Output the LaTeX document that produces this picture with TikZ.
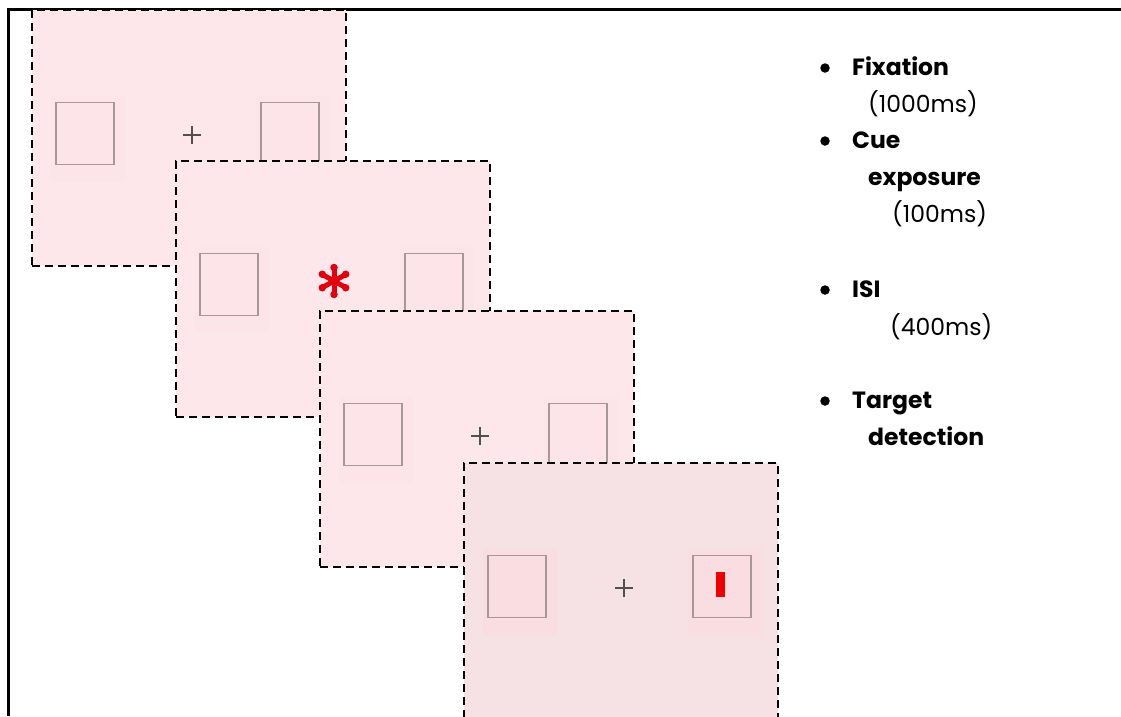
\documentclass[tikz,border=0pt]{standalone}
\usepackage{fontspec}
\setmainfont{Poppins}
\definecolor{panelpink}{HTML}{FDE7EA}
\definecolor{targetpink}{HTML}{F6E1E4}
\definecolor{glowpink}{HTML}{FCE4E8}
\definecolor{glowtarget}{HTML}{F9DDE1}
\definecolor{boxline}{HTML}{A8979A}
\definecolor{fixgray}{HTML}{505050}
\definecolor{cuered}{HTML}{E00010}
\definecolor{barred}{HTML}{F00000}
\tikzset{
  panel/.style={draw=black, line width=2.8pt, dash pattern=on 8pt off 5pt,
    fill=panelpink, minimum width=314pt, minimum height=256pt,
    anchor=north west, inner sep=0pt, outer sep=0pt},
  glow/.style={fill=glowpink, draw=none, minimum width=74pt, minimum height=86pt, inner sep=0pt},
  placebox/.style={draw=boxline, line width=1.2pt, minimum width=58pt, minimum height=62pt, inner sep=0pt},
  fixcross/.style={draw=fixgray, line width=1.9pt},
  cuestar/.style={draw=cuered, line width=5pt, line cap=round},
  blob/.style={circle, fill=cuered, minimum size=7.5pt, inner sep=0pt},
  label/.style={anchor=base west, inner sep=0pt, font=\fontsize{23.5}{28}\selectfont\bfseries},
  timing/.style={anchor=base west, inner sep=0pt, font=\fontsize{23.5}{28}\selectfont},
  dot/.style={circle, fill=black, minimum size=9.5pt, inner sep=0pt}
}
% one display: panel, two placeholder boxes and their soft halos
\newcommand\stimdisplay[1]{%
  \node[panel] (#1) at (0,0) {};
  \node[glow] (#1gl) at (56,129) {};
  \node[glow] (#1gr) at (261,129) {};
  \node[placebox] (#1l) at (53,123.5) {};
  \node[placebox] (#1r) at (258,123.5) {};
}
\newcommand\fixmark[1]{%
  \coordinate (#1c) at (160,125);
  \draw[fixcross] ([xshift=-9pt]#1c) -- ([xshift=9pt]#1c);
  \draw[fixcross] ([yshift=-9pt]#1c) -- ([yshift=9pt]#1c);
}
\begin{document}
\begin{tikzpicture}[x=1pt,y=-1pt]
\useasboundingbox (0,0) rectangle (1121,716);
\begin{scope}
\clip (0,0) rectangle (1121,716);

% outer frame
\coordinate (fbl) at (8,716);
\coordinate (ftl) at (8,9);
\coordinate (ftr) at (1121,9);
\draw[line width=3pt] (fbl) -- (ftl) -- (ftr);

% fixation display
\begin{scope}[shift={(32,10)}]
  \stimdisplay{fix}
  \fixmark{fix}
\end{scope}

% cue display
\begin{scope}[shift={(176,161)}]
  \stimdisplay{cue}
  \coordinate (star) at (158,120);
  \draw[cuestar] ([yshift=-14pt]star) -- ([yshift=14pt]star);
  \draw[cuestar] ([shift={(-12.5pt,-7pt)}]star) -- ([shift={(12.5pt,7pt)}]star);
  \draw[cuestar] ([shift={(-12.5pt,7pt)}]star) -- ([shift={(12.5pt,-7pt)}]star);
  \foreach \a in {90,30,-30,-90,-150,150}
    \node[blob] at ([shift={(\a:13.5pt)}]star) {};
\end{scope}

% inter-stimulus interval display
\begin{scope}[shift={(320,311)}]
  \stimdisplay{isi}
  \fixmark{isi}
\end{scope}

% target display
\begin{scope}[shift={(464,463)}]
  \node[panel, fill=targetpink] (tgt) at (0,0) {};
  \node[glow, fill=glowtarget] (tgtgl) at (56,129) {};
  \node[glow, fill=glowtarget] (tgtgr) at (261,129) {};
  \node[placebox] (tgtl) at (53,123.5) {};
  \node[placebox] (tgtr) at (258,123.5) {};
  \fixmark{tgt}
  \node[fill=barred, minimum width=9pt, minimum height=25pt, inner sep=0pt] (bar) at (256.5,121.5) {};
\end{scope}
\end{scope}

% legend
\node[dot] (b1) at (825,68) {};
\node[label] (t1) at (852,75) {Fixation};
\node[timing] (m1) at (868,112) {(1000ms)};
\node[dot] (b2) at (825,141) {};
\node[label] (t2) at (852,148) {Cue};
\node[label] (t2b) at (868,185) {exposure};
\node[timing] (m2) at (892,222) {(100ms)};
\node[dot] (b3) at (825,290) {};
\node[label] (t3) at (852,297) {ISI};
\node[timing] (m3) at (890,335) {(400ms)};
\node[dot] (b4) at (825,401) {};
\node[label] (t4) at (852,408) {Target};
\node[label] (t4b) at (868,445) {detection};
\end{tikzpicture}
\end{document}
